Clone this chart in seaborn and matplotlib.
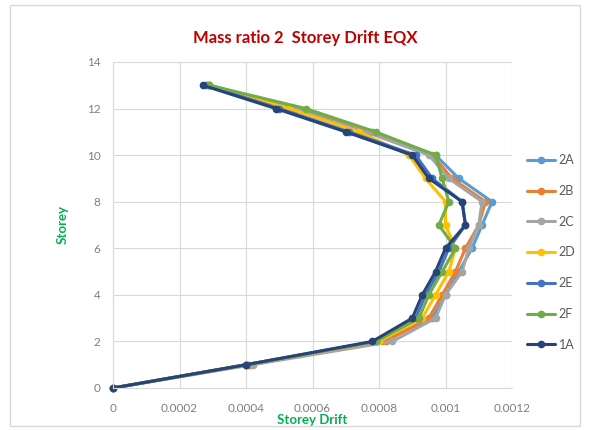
import matplotlib
matplotlib.use("Agg")
import matplotlib.pyplot as plt
import seaborn as sns
import pandas as pd
from matplotlib.patches import Rectangle

storey = list(range(14))
s2A = [0, 0.00041, 0.00081, 0.00096, 0.00100, 0.00104, 0.00108, 0.00111, 0.00114, 0.00104, 0.00097, 0.00078, 0.00055, 0.00029]
s2B = [0, 0.00041, 0.00082, 0.00095, 0.00099, 0.00103, 0.00106, 0.00110, 0.00112, 0.00102, 0.00096, 0.00077, 0.00054, 0.00029]
s2C = [0, 0.00042, 0.00084, 0.00097, 0.00100, 0.00105, 0.00107, 0.00110, 0.00111, 0.00101, 0.00095, 0.00076, 0.00054, 0.00029]
s2D = [0, 0.00040, 0.00080, 0.00093, 0.00097, 0.00101, 0.00103, 0.00100, 0.00100, 0.00094, 0.00089, 0.00074, 0.00053, 0.00028]
s2E = [0, 0.00040, 0.00079, 0.00091, 0.00094, 0.00098, 0.00101, 0.00106, 0.00105, 0.00096, 0.00091, 0.00071, 0.00050, 0.00028]
s2F = [0, 0.00040, 0.00079, 0.00092, 0.00095, 0.00099, 0.00103, 0.00098, 0.00101, 0.00099, 0.00097, 0.00079, 0.00058, 0.00029]
s1A = [0, 0.00040, 0.00078, 0.00090, 0.00093, 0.00097, 0.00100, 0.00106, 0.00105, 0.00095, 0.00090, 0.00070, 0.00049, 0.00027]

series_names = ["2A", "2B", "2C", "2D", "2E", "2F", "1A"]
series_values = [s2A, s2B, s2C, s2D, s2E, s2F, s1A]
colors = ["#5B9BD5", "#ED7D31", "#A5A5A5", "#FFC000", "#4472C4", "#70AD47", "#264478"]
x_ticks = [0, 0.0002, 0.0004, 0.0006, 0.0008, 0.001, 0.0012]
x_tick_labels = ["0", "0.0002", "0.0004", "0.0006", "0.0008", "0.001", "0.0012"]
y_ticks = [0, 2, 4, 6, 8, 10, 12, 14]

sns.set_style("white")
plt.rcParams['font.family'] = ['Lato', 'DejaVu Sans']

fig = plt.figure(figsize=(5.9, 4.3), dpi=100)
ax = fig.add_axes([113/590, 1-388/430, (512-113)/590, (388-62)/430])

rows = []
for name, vals in zip(series_names, series_values):
    for s, v in zip(storey, vals):
        rows.append({"Series": name, "Storey": s, "Drift": v})
df = pd.DataFrame(rows)

sns.lineplot(data=df, x="Drift", y="Storey", hue="Series", hue_order=series_names,
             palette=colors, sort=False, estimator=None, units="Series",
             marker="o", markersize=5.5, markeredgewidth=0, linewidth=2.2, ax=ax,
             legend=True)

ax.set_xlim(0, 0.0012)
ax.set_ylim(0, 14)
ax.set_xticks(x_ticks)
ax.set_xticklabels(x_tick_labels)
ax.set_yticks(y_ticks)
ax.grid(True, color="#D9D9D9", linewidth=0.8)
ax.set_axisbelow(True)
for sp in ["top", "right"]:
    ax.spines[sp].set_visible(False)
ax.spines["left"].set_color("#D9D9D9")
ax.spines["bottom"].set_color("#D9D9D9")
ax.tick_params(axis="both", labelsize=8.5, colors="#7F7F7F", length=0)
ax.tick_params(axis="x", pad=11)
ax.tick_params(axis="y", pad=9)
ax.set_xlabel("Storey Drift", color="#00B050", fontsize=9.5, fontweight="bold", labelpad=0)
ax.set_ylabel("Storey", color="#00B050", fontsize=9.5, fontweight="bold", labelpad=13)
for ln in ax.lines:
    ln.set_clip_on(False)

handles, labels = ax.get_legend_handles_labels()
ax.legend(handles, labels, loc="upper left", bbox_to_anchor=(516/590, 1-143/430),
          bbox_transform=fig.transFigure, frameon=False, fontsize=9,
          labelcolor="#595959", handlelength=2.2, labelspacing=1.5, handletextpad=0.3)

fig.text(305/590, 1-38/430, "Mass ratio 2  Storey Drift EQX", ha="center", va="center",
         color="#C00000", fontsize=12, fontweight="bold")

fig.patches.append(Rectangle((10/590, 4/430), 570/590, 421/430, transform=fig.transFigure,
                             fill=False, edgecolor="#D9D9D9", linewidth=1))

fig.savefig("out.png", dpi=100)
